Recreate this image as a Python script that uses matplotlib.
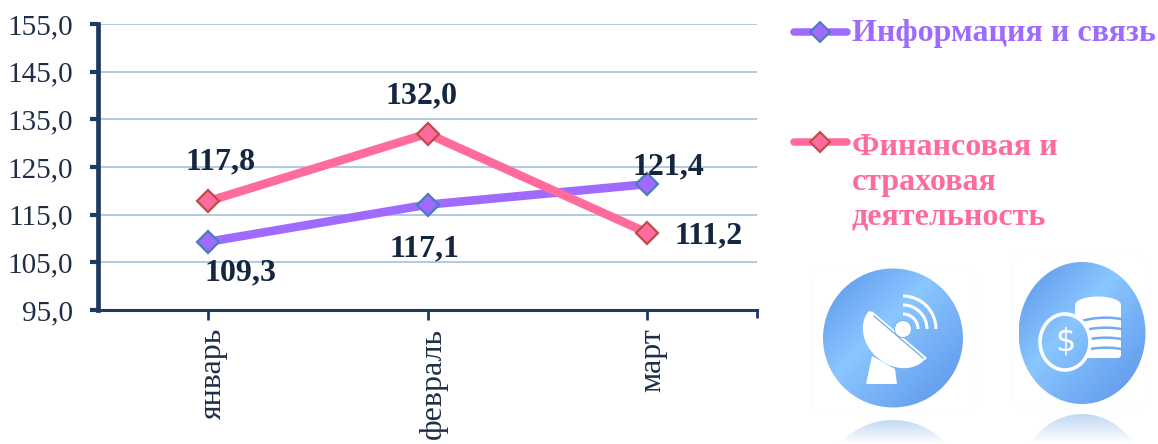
import numpy as np
import matplotlib
matplotlib.use("Agg")
import matplotlib.pyplot as plt
from matplotlib.patches import Ellipse, Polygon, Circle, Arc, FancyBboxPatch
from matplotlib.lines import Line2D
from matplotlib.colors import LinearSegmentedColormap
from matplotlib.transforms import ScaledTranslation

plt.rcParams['font.family'] = ['Liberation Serif', 'DejaVu Serif']

months = ['январь', 'февраль', 'март']
info_values = [109.3, 117.1, 121.4]
finance_values = [117.8, 132.0, 111.2]
info_labels = ['109,3', '117,1', '121,4']
finance_labels = ['117,8', '132,0', '111,2']
y_ticks = [95, 105, 115, 125, 135, 145, 155]
y_tick_labels = ['95,0', '105,0', '115,0', '125,0', '135,0', '145,0', '155,0']
legend_info = 'Информация и связь'
legend_finance = 'Финансовая и\nстраховая\nдеятельность'

W, H = 1158, 444
PURPLE, PINK = '#9F6BFF', '#FF6B9C'
DARK, TEXT = '#1F3A5F', '#14273F'

fig = plt.figure(figsize=(W / 100, H / 100), dpi=100)
ax = fig.add_axes([98 / W, 1 - 310 / H, (757 - 98) / W, (310 - 24) / H])
x = np.arange(len(months))
ax.set_xlim(-0.5, 2.5)
ax.set_ylim(95, 155)

ax.set_yticks(y_ticks)
ax.set_yticklabels(y_tick_labels, fontsize=21, color='#1E2F47')
ax.set_xticks(x)
ax.set_xticklabels(months, rotation=90, fontsize=23, color='#1E2F47')
ax.grid(axis='y', color='#9DBBE0', lw=1.1)
ax.set_axisbelow(True)
for s in ('top', 'right'):
    ax.spines[s].set_visible(False)
ax.spines['left'].set_color(DARK)
ax.spines['left'].set_linewidth(3.4)
ax.spines['bottom'].set_color(DARK)
ax.spines['bottom'].set_linewidth(2.2)
ax.tick_params(axis='y', length=6, width=3, color=DARK, pad=12, direction='out')
ax.tick_params(axis='x', length=7, width=2, color=DARK, pad=6)
shift = ScaledTranslation(6 / 100, 0, fig.dpi_scale_trans)
for lab in ax.get_xticklabels():
    lab.set_transform(lab.get_transform() + shift)
ax.plot([2.5, 2.5], [95, 93.4], color=DARK, lw=2, clip_on=False, solid_capstyle='butt')

ax.plot(x, info_values, color=PURPLE, lw=6.2, marker='D', ms=11.5, mfc=PURPLE,
        mec='#4A7EBB', mew=1.6, solid_capstyle='round', zorder=3)
ax.plot(x, finance_values, color=PINK, lw=6.2, marker='D', ms=11.5, mfc=PINK,
        mec='#BE4B48', mew=1.6, solid_capstyle='round', zorder=3)

# data-label offsets in pixels from each point
info_off = [(33, -31), (-3, -44), (21, 17)]
fin_off = [(13, 39), (-6, 38), (61, -3)]
for i in range(3):
    ax.annotate(info_labels[i], (x[i], info_values[i]), xytext=info_off[i], textcoords='offset pixels',
                ha='center', va='center', fontsize=23, fontweight='bold', color=TEXT, zorder=5)
    ax.annotate(finance_labels[i], (x[i], finance_values[i]), xytext=fin_off[i], textcoords='offset pixels',
                ha='center', va='center', fontsize=23, fontweight='bold', color=TEXT, zorder=5)

# overlay in pixel coordinates: legend and icons
ov = fig.add_axes([0, 0, 1, 1], facecolor='none')
ov.axis('off')
ov.add_line(Line2D([794, 847], [32, 32], color=PURPLE, lw=5.4, solid_capstyle='round'))
ov.add_line(Line2D([820], [32], marker='D', ms=10.5, mfc=PURPLE, mec='#4A7EBB', mew=1.5))
ov.add_line(Line2D([794, 847], [142, 142], color=PINK, lw=5.4, solid_capstyle='round'))
ov.add_line(Line2D([820], [142], marker='D', ms=10.5, mfc=PINK, mec='#BE4B48', mew=1.5))
ov.text(852, 33, legend_info, fontsize=23, fontweight='bold', color=PURPLE, va='center', ha='left')
ov.text(852, 182, legend_finance, fontsize=23, fontweight='bold', color=PINK, va='center', ha='left',
        linespacing=1.27)

cmap = LinearSegmentedColormap.from_list('ic', [(0, '#5A93EA'), (0.42, '#8AC6FF'), (1, '#5A93EA')])
fade = LinearSegmentedColormap.from_list('fd', ['#C2D9F4', '#FFFFFF'])
BLUE_LINE = '#6FAAF2'

def gradient(box, clip):
    """Diagonal gradient spanning box (cx, cy, rx, ry), clipped to the patch clip."""
    cx, cy, rx, ry = box
    g = np.linspace(0, 1, 200)
    xx, yy = np.meshgrid(g, g)
    im = ov.imshow((xx + yy) / 2, cmap=cmap, vmin=0, vmax=1,
                   extent=(cx - rx, cx + rx, cy + ry, cy - ry), aspect='auto', zorder=clip.get_zorder())
    clip.set_transform(ov.transData)
    im.set_clip_path(clip)

def reflection(cx, top, rx, ry, bottom=444):
    g = np.linspace(0, 1, 40)[:, None]
    im = ov.imshow(g, cmap=fade, vmin=0, vmax=1, extent=(cx - rx, cx + rx, bottom, top),
                   zorder=2, aspect='auto')
    im.set_clip_path(Ellipse((cx, top + ry), 2 * rx, 2 * ry, transform=ov.transData))

def frame(x0, y0, x1, y1):
    ov.add_patch(FancyBboxPatch((x0 + 10, y0 + 10), x1 - x0 - 20, y1 - y0 - 20, boxstyle='round,pad=10',
                                fc='none', ec='#FBFCFD', lw=0.8, zorder=1))

# satellite-dish icon
frame(812, 269, 976, 413)
dish_box = (893, 338, 70, 69.5)
gradient(dish_box, Ellipse((893, 338), 140, 139, zorder=2))
reflection(893, 420, 70, 69)
ov.add_patch(Polygon([[872, 356], [895, 369], [897, 384], [866, 384]], fc='white', ec='none', zorder=3))
ang = np.radians(41)
t = np.linspace(0, np.pi, 60)
bx = 37 * np.cos(t)
by = 30 * np.sin(t)
ov.add_patch(Polygon(np.c_[897 + bx * np.cos(ang) - by * np.sin(ang),
                           335 + bx * np.sin(ang) + by * np.cos(ang)],
                     fc='white', ec='none', zorder=3))
ov.add_line(Line2D([872, 925], [313, 358], color='white', lw=2, zorder=4))
ov.add_line(Line2D([874, 923], [316, 358], color=BLUE_LINE, lw=0.9, zorder=4))
ov.add_patch(Circle((903, 329), 8.5, fc='white', ec=BLUE_LINE, lw=0.6, zorder=5))
for r in (15, 24, 33):
    ov.add_patch(Arc((903, 329), 2 * r, 2 * r, theta1=-90, theta2=0, ec='white', lw=2.2, zorder=4))

# coin icon
frame(1012, 255, 1147, 408)
coin_box = (1082, 333, 63.5, 71)
gradient(coin_box, Ellipse((1082, 333), 127, 142, zorder=2))
reflection(1082, 414, 63.5, 71)
ov.add_patch(FancyBboxPatch((1078, 308), 40, 47, boxstyle='round,pad=3', fc='white', ec='none', zorder=3))
sx = np.linspace(1075, 1122, 30)
for base in (318, 328, 338, 348):
    ov.add_line(Line2D(sx, base + 3 * ((sx - 1098) / 23) ** 2 - 2 * (sx - 1098) / 23,
                       color=BLUE_LINE, lw=1.8, zorder=4))
ov.add_patch(Ellipse((1098, 305), 46, 17, fc='white', ec='none', zorder=5))
coin = Ellipse((1065, 342), 50, 56, zorder=6)
gradient(coin_box, coin)
ov.add_patch(Ellipse((1065, 342), 50, 56, fc='none', ec='white', lw=2.6, zorder=7))
ov.text(1065, 342, '$', color='white', fontsize=23, ha='center', va='center', zorder=8,
        family=['DejaVu Sans'])

ov.set_xlim(0, W)
ov.set_ylim(H, 0)

fig.savefig('out.png', dpi=100)
